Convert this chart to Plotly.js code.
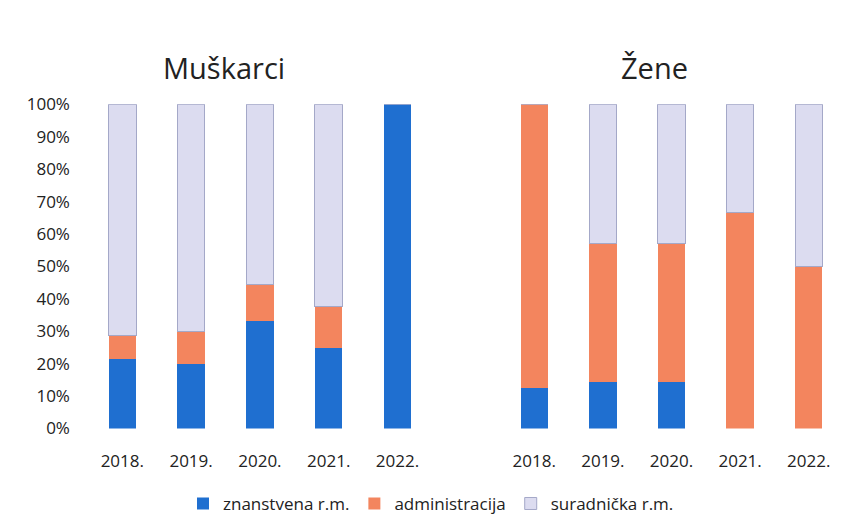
<!DOCTYPE html>
<html>
<head>
<meta charset="utf-8">
<script src="https://cdn.plot.ly/plotly-3.0.1.min.js"></script>
<style>
  html, body { margin: 0; padding: 0; background: #fff; }
  #plotArea { width: 862px; height: 522px; }
</style>
</head>
<body>
<div id="plotArea"></div>
<script>
var years = ["2018.", "2019.", "2020.", "2021.", "2022."];

// postoci, Muškarci
var menZnanstvena = [21.4, 20.0, 33.3, 25.0, 100];
var menAdmin = [7.2, 10.0, 11.1, 12.5, 0];
var menSuradnicka = [71.4, 70.0, 55.6, 62.5, 0];

// postoci, Žene
var womenZnanstvena = [12.5, 14.3, 14.3, 0, 0];
var womenAdmin = [87.5, 42.9, 42.9, 66.7, 50.0];
var womenSuradnicka = [0, 42.8, 42.8, 33.3, 50.0];

var blue = "#1f6fd0";
var orange = "#f3855e";
var lavender = "#dcdcf0";

function bar(name, y, color, xa, ya, showlegend, edge) {
    return {
        x: years, y: y, name: name, type: "bar",
        xaxis: xa, yaxis: ya, showlegend: showlegend,
        marker: {color: color, line: {color: edge || color, width: edge ? 1 : 0}},
        hoverinfo: "y+name"
    };
}

var traces = [
    bar("znanstvena r.m.", menZnanstvena, blue, "x", "y", true),
    bar("administracija", menAdmin, orange, "x", "y", true),
    bar("suradnička r.m.", menSuradnicka, lavender, "x", "y", true, "#a4a8c8"),
    bar("znanstvena r.m.", womenZnanstvena, blue, "x2", "y2", false),
    bar("administracija", womenAdmin, orange, "x2", "y2", false),
    bar("suradnička r.m.", womenSuradnicka, lavender, "x2", "y2", false, "#a4a8c8")
];

var tickFont = {family: "Open Sans, sans-serif", size: 17, color: "#222"};

var layout = {
    width: 862, height: 522,
    margin: {l: 0, r: 0, t: 0, b: 0},
    paper_bgcolor: "#fff", plot_bgcolor: "#fff",
    barmode: "stack",
    bargap: 0.6,
    font: {family: "Open Sans, sans-serif", color: "#222"},
    xaxis: {type: "category", domain: [0.102, 0.501], showgrid: false, zeroline: false, showline: false,
            ticks: "", tickfont: tickFont, ticklabelstandoff: 20, fixedrange: true},
    xaxis2: {type: "category", domain: [0.580, 0.978], anchor: "y2", showgrid: false, zeroline: false,
             showline: false, ticks: "", tickfont: tickFont, ticklabelstandoff: 20, fixedrange: true},
    yaxis: {domain: [0.1743, 0.7989], range: [0, 100], dtick: 10, ticksuffix: "%",
            showgrid: false, zeroline: false, showline: false, ticks: "",
            tickfont: tickFont, ticklabelstandoff: 17, fixedrange: true},
    yaxis2: {domain: [0.1743, 0.7989], anchor: "x2", range: [0, 100], showgrid: false,
             zeroline: false, showline: false, showticklabels: false, fixedrange: true},
    legend: {orientation: "h", traceorder: "normal", x: 0.5, xanchor: "center", y: 0.029, yanchor: "middle",
             font: {family: "Open Sans, sans-serif", size: 17, color: "#222"},
             itemwidth: 30, tracegroupgap: 0},
    annotations: [
        {text: "Muškarci", xref: "paper", yref: "paper", x: 224 / 862, y: 1 - 68 / 522,
         showarrow: false, xanchor: "center", yanchor: "middle",
         font: {family: "Open Sans, sans-serif", size: 29, color: "#222"}},
        {text: "Žene", xref: "paper", yref: "paper", x: 654 / 862, y: 1 - 68 / 522,
         showarrow: false, xanchor: "center", yanchor: "middle",
         font: {family: "Open Sans, sans-serif", size: 29, color: "#222"}}
    ]
};

Plotly.newPlot("plotArea", traces, layout, {displayModeBar: false, staticPlot: true});
</script>
</body>
</html>
